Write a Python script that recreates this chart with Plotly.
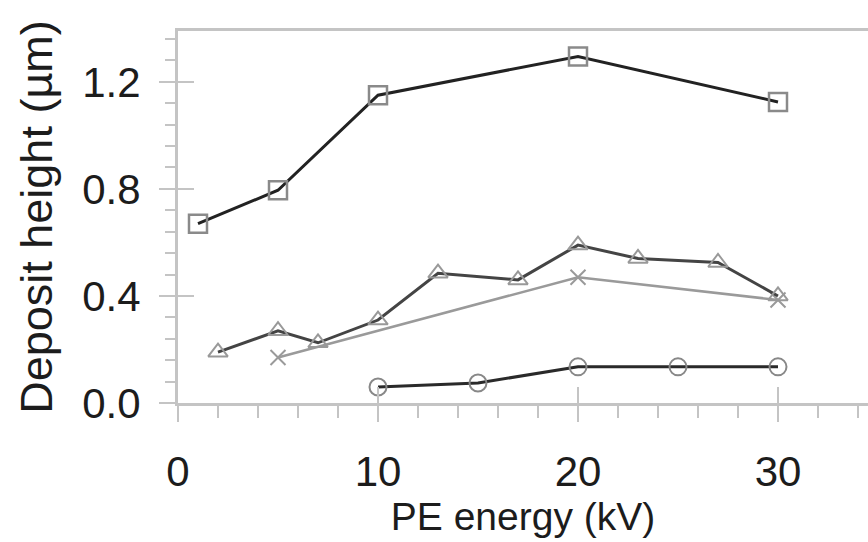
import plotly.graph_objects as go

# ---- data ----
sq_x = [1, 5, 10, 20, 30]
sq_y = [0.67, 0.795, 1.15, 1.295, 1.125]

tri_x = [2, 5, 7, 10, 13, 17, 20, 23, 27, 30]
tri_y = [0.19, 0.27, 0.225, 0.31, 0.485, 0.46, 0.59, 0.54, 0.525, 0.40]

cross_x = [5, 20, 30]
cross_y = [0.17, 0.47, 0.385]

circ_x = [10, 15, 20, 25, 30]
circ_y = [0.06, 0.075, 0.135, 0.135, 0.135]

x_major = [0, 10, 20, 30]
y_major = [0.0, 0.4, 0.8, 1.2]
x_title = "PE energy (kV)"
y_title = "Deposit height (µm)"

FONT = "Liberation Sans, Arial, sans-serif"
AXC = "#c4c4c4"
TXT = "#1c1c1c"

XR = [0, 34.5]
YR = [0, 1.39]

fig = go.Figure()

fig.add_trace(go.Scatter(
    x=sq_x, y=sq_y, mode="lines+markers",
    line=dict(color="#222222", width=3),
    marker=dict(symbol="square-open", size=18, color="#8a8a8a", line=dict(width=2.5, color="#8a8a8a")),
    showlegend=False))

fig.add_trace(go.Scatter(
    x=cross_x, y=cross_y, mode="lines+markers",
    line=dict(color="#9a9a9a", width=2.5),
    marker=dict(symbol="x-thin", size=15, color="#9a9a9a", line=dict(width=2, color="#9a9a9a")),
    showlegend=False))

fig.add_trace(go.Scatter(
    x=tri_x, y=tri_y, mode="lines+markers",
    line=dict(color="#444444", width=3),
    marker=dict(symbol="triangle-up-open", size=17, color="#999999", line=dict(width=2, color="#999999")),
    showlegend=False))

# circle series lives on the overlay axes (same ranges) so those axes get drawn;
# the overlay axes supply the inner half of the crossing major ticks
fig.add_trace(go.Scatter(
    x=circ_x, y=circ_y, mode="lines+markers", xaxis="x2", yaxis="y2",
    line=dict(color="#2a2a2a", width=3),
    marker=dict(symbol="circle-open", size=17, color="#888888", line=dict(width=2, color="#888888")),
    showlegend=False))

fig.update_layout(
    width=868, height=542,
    margin=dict(l=178, r=0, t=31, b=139),
    paper_bgcolor="white", plot_bgcolor="white",
    font=dict(family=FONT, color=TXT),
    xaxis=dict(
        range=XR, tickmode="array", tickvals=x_major, ticktext=[str(v) for v in x_major],
        showgrid=False, zeroline=False,
        showline=True, linecolor=AXC, linewidth=3, mirror=True,
        ticks="outside", ticklen=16, tickwidth=2, tickcolor=AXC,
        ticklabelstandoff=14,
        tickfont=dict(size=42, color=TXT, family=FONT),
        minor=dict(ticks="outside", dtick=2, tick0=0, ticklen=12, tickwidth=2, tickcolor=AXC),
        title=dict(text=x_title, font=dict(size=39, color=TXT, family=FONT), standoff=4),
    ),
    yaxis=dict(
        range=YR, tickmode="array", tickvals=y_major, ticktext=[f"{v:.1f}" for v in y_major],
        showgrid=False, zeroline=False,
        showline=True, linecolor=AXC, linewidth=3,
        ticks="outside", ticklen=16, tickwidth=2, tickcolor=AXC,
        ticklabelstandoff=10,
        tickfont=dict(size=42, color=TXT, family=FONT),
        minor=dict(ticks="outside", dtick=0.08, tick0=0, ticklen=10, tickwidth=2, tickcolor=AXC),
        title=dict(text=y_title, font=dict(size=45, color=TXT, family=FONT), standoff=16),
    ),
    xaxis2=dict(range=XR, overlaying="x", anchor="y2", side="bottom",
                tickmode="array", tickvals=x_major, showticklabels=False,
                ticks="inside", ticklen=16, tickwidth=2, tickcolor=AXC,
                showline=False, showgrid=False, zeroline=False),
    yaxis2=dict(range=YR, overlaying="y", anchor="x2", side="left",
                tickmode="array", tickvals=y_major, showticklabels=False,
                ticks="inside", ticklen=16, tickwidth=2, tickcolor=AXC,
                showline=False, showgrid=False, zeroline=False),
)

fig.write_html("out.html")
